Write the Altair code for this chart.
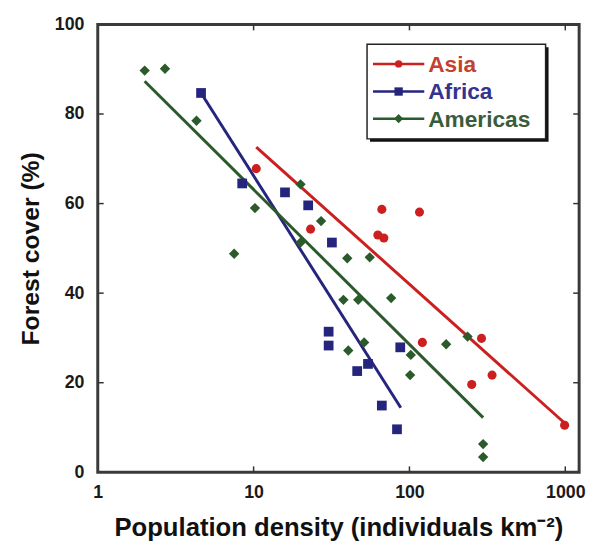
import altair as alt
import pandas as pd

# ---- data ----
regions = ["Asia", "Africa", "Americas"]
point_colors = ["#cc1f1f", "#25257e", "#2b5a2b"]
text_colors = ["#c4402f", "#34348e", "#3a5c3a"]
shapes = ["circle", "square", "diamond"]
sizes = [85, 110, 130]

asia_x = [10.4, 23.2, 62.7, 66.5, 68.5, 116, 121, 251, 290, 339, 990]
asia_y = [67.8, 54.3, 53.0, 58.7, 52.3, 58.1, 29.0, 19.6, 29.9, 21.7, 10.5]

africa_x = [4.6, 8.45, 15.9, 22.4, 31.8, 30.3, 30.3, 46.2, 54.2, 66.5, 87.3, 83.2]
africa_y = [84.7, 64.5, 62.5, 59.6, 51.3, 31.4, 28.3, 22.6, 24.2, 14.9, 27.9, 9.6]

americas_x = [2.0, 2.7, 4.3, 7.5, 10.2, 20.0, 27.1, 20.0, 39.9, 55.6, 37.7,
              46.9, 76.3, 40.5, 51.2, 102, 101, 172, 236, 297, 297]
americas_y = [89.7, 90.1, 78.5, 48.8, 59.0, 64.3, 56.1, 51.3, 47.8, 48.0, 38.5,
              38.5, 38.9, 27.2, 29.0, 26.2, 21.7, 28.6, 30.3, 6.3, 3.4]

# fitted lines (end points)
fit_asia_x = [10.4, 990]
fit_asia_y = [72.6, 11.0]
fit_africa_x = [4.6, 88]
fit_africa_y = [84.7, 14.4]
fit_americas_x = [2.0, 297]
fit_americas_y = [87.3, 12.2]

x_ticks = [1, 10, 100, 1000]
y_ticks = [0, 20, 40, 60, 80, 100]

# ---- tables ----
pts = pd.concat([
    pd.DataFrame({"x": asia_x, "y": asia_y, "region": "Asia"}),
    pd.DataFrame({"x": africa_x, "y": africa_y, "region": "Africa"}),
    pd.DataFrame({"x": americas_x, "y": americas_y, "region": "Americas"}),
], ignore_index=True)

fits = pd.concat([
    pd.DataFrame({"x": fit_asia_x, "y": fit_asia_y, "region": "Asia"}),
    pd.DataFrame({"x": fit_africa_x, "y": fit_africa_y, "region": "Africa"}),
    pd.DataFrame({"x": fit_americas_x, "y": fit_americas_y, "region": "Americas"}),
], ignore_index=True)

W, H = 488, 454
FONT = "Liberation Sans"
TICK = "#333333"

xs = alt.Scale(type="log", domain=[1, 1227], nice=False)
ys = alt.Scale(domain=[0, 100], nice=False, zero=False)
cs = alt.Scale(domain=regions, range=point_colors)

x_axis = alt.Axis(values=x_ticks, format="d", tickSize=0, domain=False, grid=False,
                  labelFlush=False, labelPadding=12, labelFontSize=18, labelFont=FONT,
                  labelFontWeight="bold", labelColor="#1a1a1a",
                  title="Population density (individuals km⁻²)", titleFont=FONT,
                  titleFontSize=26, titleFontWeight="bold", titleColor="#111111",
                  titlePadding=13)
y_axis = alt.Axis(values=y_ticks, tickSize=0, domain=False, grid=False,
                  labelPadding=14, labelFontSize=18, labelFont=FONT,
                  labelFontWeight="bold", labelColor="#1a1a1a",
                  title="Forest cover (%)", titleFont=FONT, titleFontSize=25,
                  titleFontWeight="bold", titleColor="#111111", titlePadding=11)

lines = alt.Chart(fits).mark_line(strokeWidth=3).encode(
    x=alt.X("x:Q", scale=xs, axis=x_axis),
    y=alt.Y("y:Q", scale=ys, axis=y_axis),
    color=alt.Color("region:N", scale=cs, legend=None),
    detail="region:N",
)

points = alt.Chart(pts).mark_point(filled=True, opacity=1).encode(
    x=alt.X("x:Q", scale=xs, axis=x_axis),
    y=alt.Y("y:Q", scale=ys, axis=y_axis),
    color=alt.Color("region:N", scale=cs, legend=None),
    shape=alt.Shape("region:N", scale=alt.Scale(domain=regions, range=shapes), legend=None),
    size=alt.Size("region:N", scale=alt.Scale(domain=regions, range=sizes), legend=None),
)

# inward ticks on all four sides
yt = pd.DataFrame({"x": [1] * 4, "y": y_ticks[1:-1]})
xt = pd.DataFrame({"x": x_ticks[1:], "y": [0] * 3})
tick_layers = [
    alt.Chart(yt).mark_rule(color=TICK, strokeWidth=1.5).encode(
        y=alt.Y("y:Q", scale=ys, axis=y_axis), x=alt.value(0), x2=alt.value(6)),
    alt.Chart(yt).mark_rule(color=TICK, strokeWidth=1.5).encode(
        y=alt.Y("y:Q", scale=ys, axis=y_axis), x=alt.value(W - 6), x2=alt.value(W)),
    alt.Chart(xt).mark_rule(color=TICK, strokeWidth=1.5).encode(
        x=alt.X("x:Q", scale=xs, axis=x_axis), y=alt.value(H - 6), y2=alt.value(H)),
    alt.Chart(xt).mark_rule(color=TICK, strokeWidth=1.5).encode(
        x=alt.X("x:Q", scale=xs, axis=x_axis), y=alt.value(0), y2=alt.value(6)),
]

# legend box
one = pd.DataFrame({"a": [0]})
legend_layers = [
    alt.Chart(one).mark_rect(fill="#111111").encode(
        x=alt.value(276), x2=alt.value(457), y=alt.value(23), y2=alt.value(119)),
    alt.Chart(one).mark_rect(fill="white", stroke="#222222", strokeWidth=1.5).encode(
        x=alt.value(273), x2=alt.value(454), y=alt.value(20), y2=alt.value(116)),
]
row_y = [40, 68, 95.5]
for name, pc, tc, shp, sz, ry in zip(regions, point_colors, text_colors, shapes, sizes, row_y):
    d = pd.DataFrame({"region": [name]})
    legend_layers.append(alt.Chart(d).mark_rule(color=pc, strokeWidth=2.5).encode(
        x=alt.value(279), x2=alt.value(331), y=alt.value(ry)))
    legend_layers.append(alt.Chart(d).mark_point(filled=True, opacity=1, color=pc,
                                                 shape=shp, size=sz * 0.65).encode(
        x=alt.value(305), y=alt.value(ry)))
    legend_layers.append(alt.Chart(d).mark_text(align="left", baseline="middle",
                                                font=FONT, fontSize=23, fontWeight="bold",
                                                color=tc).encode(
        x=alt.value(335), y=alt.value(ry + 1), text="region:N"))

chart = alt.layer(lines, points, *tick_layers, *legend_layers).properties(
    width=W, height=H,
    padding={"left": 91, "top": 13, "right": 10, "bottom": 67},
    autosize=alt.AutoSizeParams(type="none"),
    background="white",
).configure_view(stroke="#3a3a3a", strokeWidth=3)

chart.save("out.html", embed_options={"renderer": "svg", "actions": False})
